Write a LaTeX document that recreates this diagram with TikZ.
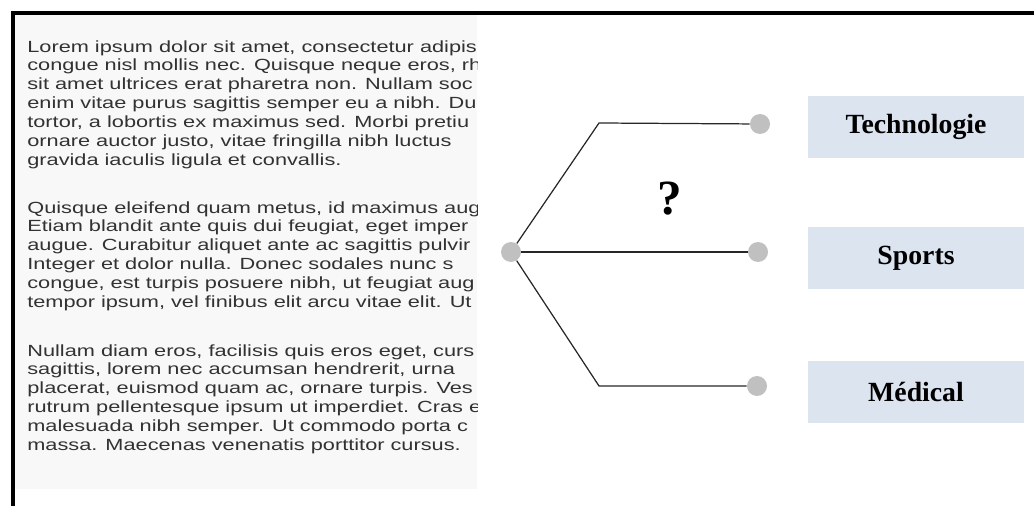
\documentclass[tikz,border=0pt]{standalone}
\usepackage{fontspec}
\setmainfont{Liberation Serif}
\newfontfamily\loremfont[FakeStretch=1.345]{Liberation Sans}
\definecolor{boxblue}{RGB}{220,228,240}
\definecolor{dotgray}{RGB}{192,192,192}
\definecolor{pagegray}{RGB}{248,248,248}
\definecolor{inkgray}{RGB}{50,50,50}

\begin{document}
\begin{tikzpicture}[
        x=0.02cm, y=-0.02cm,
        lorem/.style={
            anchor=north west,
            inner sep=0pt,
            align=left,
            text=inkgray,
            font=\loremfont\fontsize{9.2pt}{10.77pt}\selectfont
        },
        dot/.style={
            circle,
            fill=dotgray,
            minimum size=0.4cm,
            inner sep=0pt
        },
        topic/.style={
            fill=boxblue,
            minimum width=4.34cm,
            minimum height=1.26cm,
            font=\fontsize{15.8pt}{18pt}\selectfont\bfseries
        },
        line/.style={black!85, line width=0.7pt}
    ]
        \useasboundingbox (0,0) rectangle (1034,506);

        % cadre
        \draw[line width=2.3pt] (11,13) -- (1034,13);
        \draw[line width=2.3pt] (13,11) -- (13,506);

        % texte a gauche
        \fill[pagegray] (15,15) rectangle (477,489);
        \begin{scope}
            \clip (15,15) rectangle (477,489);
            \node[lorem] (para1) at (27,40) {Lorem ipsum dolor sit amet, consectetur adipis\\
                congue nisl mollis nec. Quisque neque eros, rh\\
                sit amet ultrices erat pharetra non. Nullam soc\\
                enim vitae purus sagittis semper eu a nibh. Du\\
                tortor, a lobortis ex maximus sed. Morbi pretiu\\
                ornare auctor justo, vitae fringilla nibh luctus\\
                gravida iaculis ligula et convallis.};
            \node[lorem] (para2) at (27,201) {Quisque eleifend quam metus, id maximus aug\\
                Etiam blandit ante quis dui feugiat, eget imper\\
                augue. Curabitur aliquet ante ac sagittis pulvir\\
                Integer et dolor nulla. Donec sodales nunc s\\
                congue, est turpis posuere nibh, ut feugiat aug\\
                tempor ipsum, vel finibus elit arcu vitae elit. Ut e};
            \node[lorem] (para3) at (27,344) {Nullam diam eros, facilisis quis eros eget, curs\\
                sagittis, lorem nec accumsan hendrerit, urna\\
                placerat, euismod quam ac, ornare turpis. Ves\\
                rutrum pellentesque ipsum ut imperdiet. Cras e\\
                malesuada nibh semper. Ut commodo porta c\\
                massa. Maecenas venenatis porttitor cursus.};
        \end{scope}

        % points
        \node[dot] (hub) at (511,252) {};
        \node[dot] (dtech) at (760,124) {};
        \node[dot] (dsport) at (758,252) {};
        \node[dot] (dmed) at (757,386) {};
        \coordinate (ktop) at (599,123);
        \coordinate (kbot) at (599,386);

        % question
        \node[font=\fontsize{28pt}{30pt}\selectfont\bfseries] (q) at (670,199) {?};

        % categories
        \node[topic] (tech) at (916,127) {Technologie};
        \node[topic] (sport) at (916,258) {Sports};
        \node[topic] (med) at (916,392) {Médical};

        % spojnice
        \draw[line] (hub) -- (ktop) -- (dtech);
        \draw[line] (hub) -- (dsport);
        \draw[line] (hub) -- (kbot) -- (dmed);

\end{tikzpicture}
\end{document}
